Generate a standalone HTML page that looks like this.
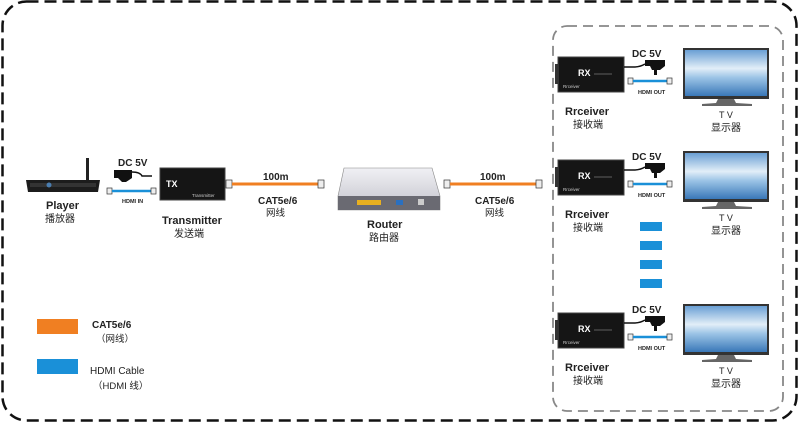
<!DOCTYPE html>
<html><head><meta charset="utf-8"><style>
html,body{margin:0;padding:0;background:#fff;}
svg{display:block;}
text{font-family:"Liberation Sans","Noto Sans CJK SC",sans-serif;fill:#222;}
.b{font-weight:bold;}
</style></head><body>
<svg width="800" height="425" viewBox="0 0 800 425" xmlns="http://www.w3.org/2000/svg">
<defs>
<linearGradient id="tv" x1="0" y1="0" x2="0" y2="1">
<stop offset="0" stop-color="#6a9fd4"/><stop offset="0.4" stop-color="#e2eef8"/><stop offset="0.6" stop-color="#9cc4e6"/><stop offset="1" stop-color="#3a78b8"/></linearGradient>
<linearGradient id="rt" x1="0" y1="0" x2="0" y2="1"><stop offset="0" stop-color="#f0f0f4"/><stop offset="1" stop-color="#c4c4cc"/></linearGradient>
<g id="rx">
<rect x="558" y="57" width="66" height="35" fill="#151515" stroke="#444"/>
<rect x="555" y="64" width="4" height="20" fill="#333"/>
<text x="578" y="76" font-size="9" class="b" style="fill:#fff">RX</text>
<line x1="594" y1="74" x2="612" y2="74" stroke="#aaa" stroke-width="0.6"/>
<text x="563" y="88" font-size="4.5" style="fill:#ccc">Rrceiver</text>
<path d="M624 67 L634 67 Q640 67 645 64" stroke="#111" stroke-width="1.5" fill="none"/>
<path d="M645 60 L665 60 L665 66 L660 70 L652 70 L650 66 L645 66 Z" fill="#111"/>
<rect x="654" y="70" width="3" height="5" fill="#111"/>
<text x="632" y="57" font-size="10" class="b">DC 5V</text>
<rect x="628" y="78" width="5" height="6" fill="#eee" stroke="#333" stroke-width="0.7"/>
<line x1="633" y1="81" x2="667" y2="81" stroke="#1a90d8" stroke-width="2.5"/>
<rect x="667" y="78" width="5" height="6" fill="#eee" stroke="#333" stroke-width="0.7"/>
<text x="638" y="94" font-size="5.5" class="b">HDMI OUT</text>
<rect x="683" y="48" width="86" height="51" fill="#333"/>
<rect x="685" y="50" width="82" height="46" fill="url(#tv)"/>
<path d="M718 99 L734 99 L736 103 L752 104 L752 106 L702 106 L702 104 L716 103 Z" fill="#666"/>
<text x="565" y="115" font-size="11" class="b">Rrceiver</text>
<text x="573" y="128" font-size="10">接收端</text>
<text x="719" y="118" font-size="9">T V</text>
<text x="711" y="131" font-size="10">显示器</text>
</g>
</defs>
<rect x="2.5" y="1.5" width="794" height="419" rx="24" fill="none" stroke="#111" stroke-width="2.5" stroke-dasharray="12 6"/>
<rect x="553" y="26" width="230" height="385" rx="14" fill="none" stroke="#888" stroke-width="1.8" stroke-dasharray="10 6"/>

<rect x="86" y="158" width="3" height="22" fill="#222"/>
<path d="M26 180 L100 180 L98 192 L28 192 Z" fill="#1c1c1c"/>
<rect x="30" y="183" width="66" height="4" fill="#333"/>
<circle cx="49" cy="185" r="2.5" fill="#4a7db0"/>
<text x="46" y="209" font-size="11" class="b">Player</text>
<text x="45" y="222" font-size="10">播放器</text>
<path d="M114 170 L132 170 L132 178 L126 182 L122 182 L118 178 L114 178 Z" fill="#111"/>
<path d="M132 172 Q140 172 142 176 L152 176" stroke="#111" stroke-width="1.5" fill="none"/>
<text x="118" y="166" font-size="10" class="b">DC 5V</text>
<rect x="107" y="188" width="5" height="6" fill="#eee" stroke="#333" stroke-width="0.7"/>
<line x1="112" y1="191" x2="151" y2="191" stroke="#1a90d8" stroke-width="2.5"/>
<rect x="151" y="188" width="5" height="6" fill="#eee" stroke="#333" stroke-width="0.7"/>
<text x="122" y="203" font-size="5.5" class="b">HDMI IN</text>
<rect x="160" y="168" width="65" height="32" fill="#151515" stroke="#444"/>
<text x="166" y="187" font-size="9" class="b" style="fill:#fff">TX</text>
<text x="192" y="197" font-size="4.5" style="fill:#ccc">Transmitter</text>
<text x="162" y="224" font-size="11" class="b">Transmitter</text>
<text x="174" y="237" font-size="10">发送端</text>
<rect x="226" y="180" width="6" height="8" fill="#eee" stroke="#333" stroke-width="0.7"/>
<line x1="232" y1="184" x2="318" y2="184" stroke="#f07f22" stroke-width="3"/>
<rect x="318" y="180" width="6" height="8" fill="#eee" stroke="#333" stroke-width="0.7"/>
<text x="263" y="180" font-size="10" class="b">100m</text>
<text x="258" y="204" font-size="10" class="b">CAT5e/6</text>
<text x="266" y="216" font-size="9.5">网线</text>
<path d="M344 168 L432 168 L440 196 L440 210 L338 210 L338 196 Z" fill="url(#rt)" stroke="#888" stroke-width="0.6"/>
<rect x="338" y="196" width="102" height="14" fill="#6a6a72"/>
<rect x="357" y="200" width="24" height="5" fill="#e8b020"/>
<rect x="396" y="200" width="7" height="5" fill="#2a70c0"/>
<rect x="418" y="199" width="6" height="6" fill="#ccc"/>
<text x="367" y="228" font-size="11" class="b">Router</text>
<text x="369" y="241" font-size="10">路由器</text>
<rect x="444" y="180" width="6" height="8" fill="#eee" stroke="#333" stroke-width="0.7"/>
<line x1="450" y1="184" x2="536" y2="184" stroke="#f07f22" stroke-width="3"/>
<rect x="536" y="180" width="6" height="8" fill="#eee" stroke="#333" stroke-width="0.7"/>
<text x="480" y="180" font-size="10" class="b">100m</text>
<text x="475" y="204" font-size="10" class="b">CAT5e/6</text>
<text x="485" y="216" font-size="9.5">网线</text>

<use href="#rx"/>
<use href="#rx" transform="translate(0,103)"/>
<use href="#rx" transform="translate(0,256)"/>
<rect x="640" y="222" width="22" height="9" fill="#1a90d8"/>
<rect x="640" y="241" width="22" height="9" fill="#1a90d8"/>
<rect x="640" y="260" width="22" height="9" fill="#1a90d8"/>
<rect x="640" y="279" width="22" height="9" fill="#1a90d8"/>

<rect x="37" y="319" width="41" height="15" fill="#f07f22"/>
<text x="92" y="328" font-size="10" class="b">CAT5e/6</text>
<text x="96" y="342" font-size="9.5">（网线）</text>
<rect x="37" y="359" width="41" height="15" fill="#1a90d8"/>
<text x="90" y="374" font-size="10">HDMI Cable</text>
<text x="93" y="389" font-size="9.5">（HDMI 线）</text>
</svg>
</body></html>
